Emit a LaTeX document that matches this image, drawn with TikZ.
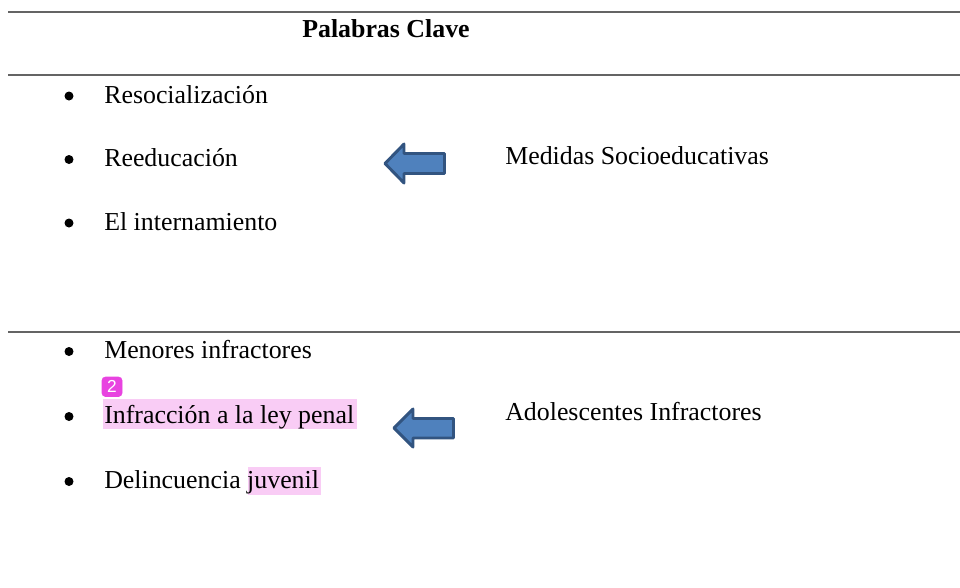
\documentclass[tikz,border=0pt]{standalone}
\usepackage{fontspec}
\setmainfont{Liberation Serif}
\setsansfont{Liberation Sans}
\usepackage{tikz}

\definecolor{flechaazul}{RGB}{79,129,189}
\definecolor{flechaborde}{RGB}{50,84,128}
\definecolor{resaltado}{RGB}{249,204,245}
\definecolor{marca}{RGB}{232,67,224}
\definecolor{regla}{RGB}{100,100,100}

\tikzset{
    palabra/.style={anchor=base west,inner sep=0pt,font=\fontsize{19.4}{23}\selectfont},
    flecha/.style={draw=flechaborde,fill=flechaazul,line width=2.2,line join=round},
    regla/.style={draw=regla,line width=1.1},
    punto/.style={fill=black,draw=none}
}

\begin{document}
\begin{tikzpicture}[x=0.75pt,y=0.75pt,yscale=-1,xscale=1]
        \useasboundingbox (0,0) rectangle (960,587);

        %Straight Lines (table rules)
        \draw [regla]    (8,12) -- (960,12) ;
        \draw [regla]    (8,75) -- (960,75) ;
        \draw [regla]    (8,332) -- (960,332) ;

        %Shape: highlights
        \fill [resaltado] (103,399) rectangle (357,429) ;
        \fill [resaltado] (248,467) rectangle (321,495) ;
        %Shape: comment badge
        \draw [fill=marca,draw=marca,rounded corners=2.5] (102,377) rectangle (122,396.5) ;
        \node (badge) at (112,386.8) [text=white,inner sep=0pt,font=\sffamily\fontsize{13}{13}\selectfont] {2};

        % Text Node
        \node (titulo) at (302,37) [palabra] {\textbf{Palabras Clave}};

        %Shape: bullets
        \fill [punto] (69,96) circle (4.5) ;
        \fill [punto] (69,159.5) circle (4.5) ;
        \fill [punto] (69,223) circle (4.5) ;
        \fill [punto] (69,351.5) circle (4.5) ;
        \fill [punto] (69,416.5) circle (4.5) ;
        \fill [punto] (69,481.5) circle (4.5) ;

        % Text Node
        \node (resocial) at (104,103) [palabra] {Resocialización};
        % Text Node
        \node (reeduca) at (104,166.5) [palabra] {Reeducación};
        % Text Node
        \node (interna) at (104,230) [palabra] {El internamiento};
        % Text Node
        \node (medidas) at (505,164) [palabra] {Medidas Socioeducativas};

        % Text Node
        \node (menores) at (104,358) [palabra] {Menores infractores};
        % Text Node
        \node (infraccion) at (104,423) [palabra] {Infracción a la ley penal};
        % Text Node
        \node (delincuencia) at (104,488) [palabra] {Delincuencia juvenil};
        % Text Node
        \node (adolescentes) at (505,420) [palabra] {Adolescentes Infractores};

        %Shape: Left Arrow
        \draw [flecha] (385,163.5) -- (404,144) -- (404,153.5) -- (444.5,153.5) -- (444.5,173.5) -- (404,173.5) -- (404,183) -- cycle ;
        %Shape: Left Arrow
        \draw [flecha] (394,428) -- (413,409) -- (413,418.5) -- (453.5,418.5) -- (453.5,438) -- (413,438) -- (413,447) -- cycle ;

    \end{tikzpicture}
\end{document}
